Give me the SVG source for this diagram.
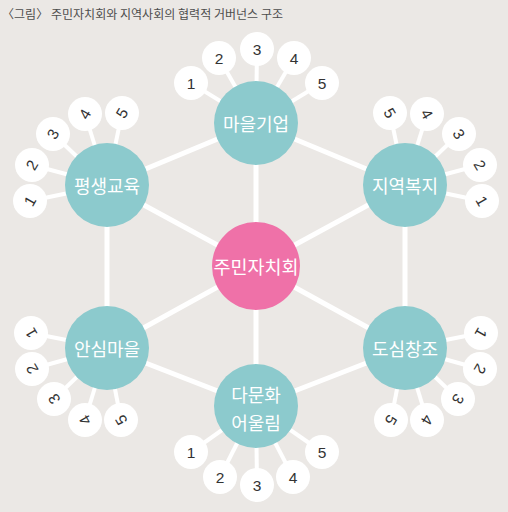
<svg xmlns="http://www.w3.org/2000/svg" width="508" height="512" viewBox="0 0 508 512">
<style>
.bg{fill:#ebe8e5}
.main{stroke:#ffffff;stroke-width:5;fill:none}
.fan{stroke:#ffffff;stroke-width:4;fill:none}
.hub{fill:#8ccacd}
.core{fill:#ef71a8}
.sm{fill:#ffffff}
.lbl{font-family:"Noto Sans CJK KR","Noto Sans",sans-serif;fill:#ffffff;text-anchor:middle;dominant-baseline:central}
.num{font-family:"Liberation Sans",Arial,sans-serif;font-size:15.5px;fill:#333333;text-anchor:middle;dominant-baseline:central}
.title{font-family:"Noto Sans CJK KR","Noto Sans",sans-serif;font-size:12px;fill:#4d4d4d}
</style>
<rect class="bg" x="0" y="0" width="508" height="512"/>
<text class="title" x="2" y="19" textLength="281" lengthAdjust="spacing">〈그림〉 주민자치회와 지역사회의 협력적 거버넌스 구조</text>
<g id="connectors">
  <!-- hexagon edges -->
  <line class="main" x1="256" y1="123" x2="107" y2="185"/>
  <line class="main" x1="256" y1="123" x2="405" y2="185"/>
  <line class="main" x1="107" y1="185" x2="107" y2="348"/>
  <line class="main" x1="405" y1="185" x2="405" y2="348"/>
  <line class="main" x1="107" y1="348" x2="256" y2="406"/>
  <line class="main" x1="405" y1="348" x2="256" y2="406"/>
  <!-- spokes -->
  <line class="main" x1="256" y1="266" x2="256" y2="123"/>
  <line class="main" x1="256" y1="266" x2="256" y2="406"/>
  <line class="main" x1="256" y1="266" x2="107" y2="185"/>
  <line class="main" x1="256" y1="266" x2="405" y2="185"/>
  <line class="main" x1="256" y1="266" x2="107" y2="348"/>
  <line class="main" x1="256" y1="266" x2="405" y2="348"/>
  <!-- fans: top -->
  <line class="fan" x1="256" y1="123" x2="191" y2="83"/>
  <line class="fan" x1="256" y1="123" x2="219" y2="58"/>
  <line class="fan" x1="256" y1="123" x2="257" y2="49"/>
  <line class="fan" x1="256" y1="123" x2="294" y2="58"/>
  <line class="fan" x1="256" y1="123" x2="322" y2="83"/>
  <!-- fans: bottom -->
  <line class="fan" x1="256" y1="406" x2="191" y2="452"/>
  <line class="fan" x1="256" y1="406" x2="220" y2="477"/>
  <line class="fan" x1="256" y1="406" x2="257" y2="485"/>
  <line class="fan" x1="256" y1="406" x2="293" y2="477"/>
  <line class="fan" x1="256" y1="406" x2="322" y2="452"/>
  <!-- fans: left top -->
  <line class="fan" x1="107" y1="185" x2="30" y2="201"/>
  <line class="fan" x1="107" y1="185" x2="32" y2="165"/>
  <line class="fan" x1="107" y1="185" x2="53" y2="134"/>
  <line class="fan" x1="107" y1="185" x2="85" y2="114"/>
  <line class="fan" x1="107" y1="185" x2="122" y2="113"/>
  <!-- fans: right top -->
  <line class="fan" x1="405" y1="185" x2="482" y2="201"/>
  <line class="fan" x1="405" y1="185" x2="480" y2="165"/>
  <line class="fan" x1="405" y1="185" x2="459" y2="134"/>
  <line class="fan" x1="405" y1="185" x2="427" y2="114"/>
  <line class="fan" x1="405" y1="185" x2="390" y2="113"/>
  <!-- fans: left bottom -->
  <line class="fan" x1="107" y1="348" x2="31" y2="333"/>
  <line class="fan" x1="107" y1="348" x2="32" y2="369"/>
  <line class="fan" x1="107" y1="348" x2="54" y2="399"/>
  <line class="fan" x1="107" y1="348" x2="85" y2="420"/>
  <line class="fan" x1="107" y1="348" x2="121" y2="420"/>
  <!-- fans: right bottom -->
  <line class="fan" x1="405" y1="348" x2="481" y2="333"/>
  <line class="fan" x1="405" y1="348" x2="480" y2="369"/>
  <line class="fan" x1="405" y1="348" x2="458" y2="399"/>
  <line class="fan" x1="405" y1="348" x2="427" y2="420"/>
  <line class="fan" x1="405" y1="348" x2="391" y2="420"/>
</g>
<g id="node-center">
  <circle class="core" cx="256" cy="266" r="44"/>
  <text class="lbl" x="256" y="266" font-size="18.5">주민자치회</text>
</g>
<g id="node-maeul-gieop">
  <circle class="hub" cx="256" cy="123" r="42"/>
  <text class="lbl" x="256" y="123" font-size="18">마을기업</text>
  <g id="t1"><circle class="sm" cx="191" cy="83" r="17"/><text class="num" x="191" y="83">1</text></g>
  <g id="t2"><circle class="sm" cx="219" cy="58" r="17"/><text class="num" x="219" y="58">2</text></g>
  <g id="t3"><circle class="sm" cx="257" cy="49" r="17"/><text class="num" x="257" y="49">3</text></g>
  <g id="t4"><circle class="sm" cx="294" cy="58" r="17"/><text class="num" x="294" y="58">4</text></g>
  <g id="t5"><circle class="sm" cx="322" cy="83" r="17"/><text class="num" x="322" y="83">5</text></g>
</g>
<g id="node-damunhwa">
  <circle class="hub" cx="256" cy="406" r="42"/>
  <text class="lbl" x="256" y="394" font-size="18">다문화</text>
  <text class="lbl" x="256" y="422" font-size="18">어울림</text>
  <g id="b1"><circle class="sm" cx="191" cy="452" r="17"/><text class="num" x="191" y="452">1</text></g>
  <g id="b2"><circle class="sm" cx="220" cy="477" r="17"/><text class="num" x="220" y="477">2</text></g>
  <g id="b3"><circle class="sm" cx="257" cy="485" r="17"/><text class="num" x="257" y="485">3</text></g>
  <g id="b4"><circle class="sm" cx="293" cy="477" r="17"/><text class="num" x="293" y="477">4</text></g>
  <g id="b5"><circle class="sm" cx="322" cy="452" r="17"/><text class="num" x="322" y="452">5</text></g>
</g>
<g id="node-pyeongsaeng">
  <circle class="hub" cx="107" cy="185" r="42"/>
  <text class="lbl" x="107" y="185" font-size="18">평생교육</text>
  <g id="lt1"><circle class="sm" cx="30" cy="201" r="17"/><text class="num" x="30" y="201" transform="rotate(-60 30 201)">1</text></g>
  <g id="lt2"><circle class="sm" cx="32" cy="165" r="17"/><text class="num" x="32" y="165" transform="rotate(-60 32 165)">2</text></g>
  <g id="lt3"><circle class="sm" cx="53" cy="134" r="17"/><text class="num" x="53" y="134" transform="rotate(-60 53 134)">3</text></g>
  <g id="lt4"><circle class="sm" cx="85" cy="114" r="17"/><text class="num" x="85" y="114" transform="rotate(-60 85 114)">4</text></g>
  <g id="lt5"><circle class="sm" cx="122" cy="113" r="17"/><text class="num" x="122" y="113" transform="rotate(-60 122 113)">5</text></g>
</g>
<g id="node-jiyeok-bokji">
  <circle class="hub" cx="405" cy="185" r="42"/>
  <text class="lbl" x="405" y="185" font-size="18">지역복지</text>
  <g id="rt1"><circle class="sm" cx="482" cy="201" r="17"/><text class="num" x="482" y="201" transform="rotate(60 482 201)">1</text></g>
  <g id="rt2"><circle class="sm" cx="480" cy="165" r="17"/><text class="num" x="480" y="165" transform="rotate(60 480 165)">2</text></g>
  <g id="rt3"><circle class="sm" cx="459" cy="134" r="17"/><text class="num" x="459" y="134" transform="rotate(60 459 134)">3</text></g>
  <g id="rt4"><circle class="sm" cx="427" cy="114" r="17"/><text class="num" x="427" y="114" transform="rotate(60 427 114)">4</text></g>
  <g id="rt5"><circle class="sm" cx="390" cy="113" r="17"/><text class="num" x="390" y="113" transform="rotate(60 390 113)">5</text></g>
</g>
<g id="node-ansim">
  <circle class="hub" cx="107" cy="348" r="42"/>
  <text class="lbl" x="107" y="348" font-size="18">안심마을</text>
  <g id="lb1"><circle class="sm" cx="31" cy="333" r="17"/><text class="num" x="31" y="333" transform="rotate(-120 31 333)">1</text></g>
  <g id="lb2"><circle class="sm" cx="32" cy="369" r="17"/><text class="num" x="32" y="369" transform="rotate(-120 32 369)">2</text></g>
  <g id="lb3"><circle class="sm" cx="54" cy="399" r="17"/><text class="num" x="54" y="399" transform="rotate(-120 54 399)">3</text></g>
  <g id="lb4"><circle class="sm" cx="85" cy="420" r="17"/><text class="num" x="85" y="420" transform="rotate(-120 85 420)">4</text></g>
  <g id="lb5"><circle class="sm" cx="121" cy="420" r="17"/><text class="num" x="121" y="420" transform="rotate(-120 121 420)">5</text></g>
</g>
<g id="node-dosim">
  <circle class="hub" cx="405" cy="348" r="42"/>
  <text class="lbl" x="405" y="348" font-size="18">도심창조</text>
  <g id="rb1"><circle class="sm" cx="481" cy="333" r="17"/><text class="num" x="481" y="333" transform="rotate(120 481 333)">1</text></g>
  <g id="rb2"><circle class="sm" cx="480" cy="369" r="17"/><text class="num" x="480" y="369" transform="rotate(120 480 369)">2</text></g>
  <g id="rb3"><circle class="sm" cx="458" cy="399" r="17"/><text class="num" x="458" y="399" transform="rotate(120 458 399)">3</text></g>
  <g id="rb4"><circle class="sm" cx="427" cy="420" r="17"/><text class="num" x="427" y="420" transform="rotate(120 427 420)">4</text></g>
  <g id="rb5"><circle class="sm" cx="391" cy="420" r="17"/><text class="num" x="391" y="420" transform="rotate(120 391 420)">5</text></g>
</g>
</svg>
